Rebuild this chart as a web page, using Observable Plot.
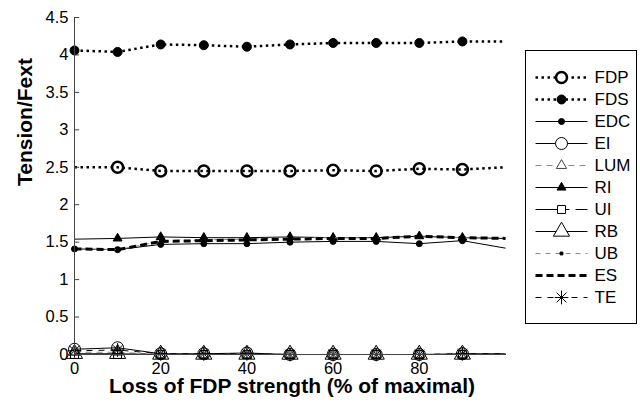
<!DOCTYPE html>
<html><head><meta charset="utf-8">
<script src="https://cdn.jsdelivr.net/npm/d3@7"></script>
<script src="https://cdn.jsdelivr.net/npm/@observablehq/plot@0.6"></script>
<style>
body{margin:0;background:#fff;font-family:"Liberation Sans",Arial,sans-serif;}
#wrap{position:relative;width:640px;height:404px;overflow:hidden;}
#legend{position:absolute;left:525px;top:50px;}
</style></head><body><div id="wrap"><div id="chart"></div><div id="legend"></div></div>
<script>
// ---- data ----
const xValues = [0, 10, 20, 30, 40, 50, 60, 70, 80, 90, 100];
const FDP = [2.50, 2.50, 2.45, 2.45, 2.45, 2.45, 2.46, 2.45, 2.48, 2.47, 2.50];
const FDS = [4.06, 4.04, 4.14, 4.13, 4.11, 4.14, 4.16, 4.16, 4.16, 4.18, 4.18];
const EDC = [1.41, 1.40, 1.47, 1.48, 1.48, 1.50, 1.51, 1.51, 1.48, 1.52, 1.42];
const EI  = [0.07, 0.09, 0.01, 0.01, 0.02, 0.00, 0.00, 0.00, 0.00, 0.01, 0.01];
const LUM = [0.03, 0.03, 0.00, 0.00, 0.00, 0.00, 0.00, 0.00, 0.00, 0.00, 0.00];
const RI  = [1.54, 1.55, 1.57, 1.56, 1.56, 1.57, 1.56, 1.56, 1.58, 1.56, 1.55];
const UI  = [0.00, 0.00, 0.00, 0.00, 0.00, 0.00, 0.00, 0.00, 0.00, 0.00, 0.00];
const RB  = [0.01, 0.01, 0.00, 0.00, 0.00, 0.00, 0.00, 0.00, 0.00, 0.00, 0.00];
const UB  = [1.41, 1.40, 1.51, 1.53, 1.54, 1.56, 1.56, 1.56, 1.57, 1.56, 1.55];
const ES  = [1.41, 1.40, 1.51, 1.52, 1.53, 1.54, 1.55, 1.55, 1.58, 1.56, 1.55];
const TE  = [0.05, 0.06, 0.01, 0.01, 0.01, 0.00, 0.00, 0.00, 0.00, 0.01, 0.01];
const seriesNames = ["FDP","FDS","EDC","EI","LUM","RI","UI","RB","UB","ES","TE"];
const seriesValues = {FDP, FDS, EDC, EI, LUM, RI, UI, RB, UB, ES, TE};
const yTicks = [0, 0.5, 1, 1.5, 2, 2.5, 3, 3.5, 4, 4.5];
const xTicks = [0, 20, 40, 60, 80];
const xTitle = "Loss of FDP strength (% of maximal)";
const yTitle = "Tension/Fext";

// ---- styles ----
const styles = {
  FDP: {stroke:"#000", sw:2.5, dash:"2.5,3.5", symbols:["circle"], r:5.5, fill:"none", ms:"#000", msw:2.5, first:1},
  FDS: {stroke:"#000", sw:2.5, dash:"2.5,3.5", symbols:["circle"], r:4.5, fill:"#000", ms:"#000", msw:1, first:0},
  EDC: {stroke:"#000", sw:1, dash:null, symbols:["circle"], r:3, fill:"#000", ms:"#000", msw:1, first:0},
  EI:  {stroke:"#000", sw:1, dash:null, symbols:["circle"], r:6, fill:"none", ms:"#000", msw:1, first:0},
  LUM: {stroke:"#888", sw:1, dash:"6,5", symbols:["triangle"], r:3.8, fill:"none", ms:"#444", msw:1, first:0},
  RI:  {stroke:"#000", sw:1, dash:null, symbols:["triangle"], r:3.3, fill:"#000", ms:"#000", msw:1, first:1},
  UI:  {stroke:"#000", sw:1, dash:"22,6,6,6", symbols:["square"], r:4.5, fill:"none", ms:"#000", msw:1, first:0},
  RB:  {stroke:"#000", sw:1, dash:null, symbols:["triangle"], r:6, fill:"none", ms:"#000", msw:1, first:0},
  UB:  {stroke:"#888", sw:1, dash:"5,5", symbols:["square"], r:1.6, fill:"#000", ms:"#000", msw:1, first:0},
  ES:  {stroke:"#000", sw:3, dash:"7,4", symbols:[], r:0, fill:"none", ms:"#000", msw:1, first:0},
  TE:  {stroke:"#000", sw:1, dash:"6,6", symbols:["plus","times"], r:4.5, fill:"none", ms:"#000", msw:1, first:0}
};

const font = "Liberation Sans, Arial, Helvetica, sans-serif";

// ---- main chart ----
const marks = [];
for (const name of seriesNames) {
  const s = styles[name];
  const rows = xValues.map((x, i) => ({x, y: seriesValues[name][i]}));
  marks.push(Plot.line(rows, {x:"x", y:"y", stroke:s.stroke, strokeWidth:s.sw, strokeDasharray:s.dash, strokeLinecap:"butt"}));
  const mrows = rows.filter((d, i) => i >= s.first && i < rows.length - 1);
  for (const sym of s.symbols) {
    marks.push(Plot.dot(mrows, {x:"x", y:"y", symbol:sym, r:s.r, fill:s.fill, stroke:s.ms, strokeWidth:s.msw}));
  }
}
marks.push(Plot.ruleX([0], {stroke:"#444"}));
marks.push(Plot.ruleY([0], {stroke:"#444"}));
marks.push(Plot.ruleY(yTicks, {y:d=>d, x1:0, x2:1.2, stroke:"#444"}));
marks.push(Plot.ruleX(xTicks, {x:d=>d, y1:0, y2:0.065, stroke:"#444"}));
marks.push(Plot.axisY({ticks:yTicks, tickSize:0, tickPadding:6, tickFormat:d=>String(d), fontSize:16.5, label:null}));
marks.push(Plot.axisX({ticks:xTicks, tickSize:0, tickPadding:8, tickFormat:d=>String(d), fontSize:16.5, label:null}));
marks.push(Plot.text([xTitle], {text:d=>d, frameAnchor:"bottom", dy:38.5, dx:2, fontWeight:"bold", fontSize:21}));
marks.push(Plot.text([yTitle], {text:d=>d, frameAnchor:"left", dx:-49, rotate:-90, fontWeight:"bold", fontSize:21}));

const chart = Plot.plot({
  width:640, height:404,
  marginLeft:74, marginRight:135, marginTop:17, marginBottom:50,
  x:{domain:[0,100]},
  y:{domain:[0,4.5]},
  style:{fontFamily:font, fontSize:"16px", background:"white", color:"#000", overflow:"visible"},
  marks
});
document.getElementById("chart").append(chart);

// ---- legend ----
const lmarks = [Plot.frame({stroke:"#000", strokeWidth:1})];
for (const name of seriesNames) {
  const s = styles[name];
  lmarks.push(Plot.link([name], {x1:10, x2:62, y1:d=>d, y2:d=>d, stroke:s.stroke, strokeWidth:s.sw, strokeDasharray:s.dash}));
  for (const sym of s.symbols) {
    lmarks.push(Plot.dot([name], {x:36, y:d=>d, symbol:sym, r:s.r, fill:s.fill === "none" ? "white" : s.fill, stroke:s.ms, strokeWidth:s.msw}));
  }
}
lmarks.push(Plot.text(seriesNames, {x:69, y:d=>d, text:d=>d, textAnchor:"start", fontSize:17}));
const legend = Plot.plot({
  width:111, height:273,
  marginLeft:0, marginRight:0, marginTop:0, marginBottom:0,
  x:{domain:[0,111], range:[0,111], axis:null},
  y:{type:"point", domain:seriesNames, range:[15,258], axis:null},
  style:{fontFamily:font, fontSize:"16px", background:"white", color:"#000", overflow:"visible"},
  marks:lmarks
});
document.getElementById("legend").append(legend);
</script></body></html>
